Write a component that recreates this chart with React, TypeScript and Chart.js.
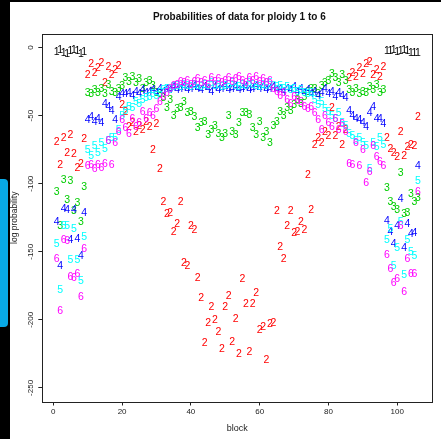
import React, { useEffect, useRef } from "react";
import { Chart, registerables } from "chart.js";

Chart.register(...registerables);

const TITLE = "Probabilities of data for ploidy 1 to 6";
const X_LABEL = "block";
const Y_LABEL = "log probability";
const X_TICKS = [0, 20, 40, 60, 80, 100];
const Y_TICKS = [0, -50, -100, -150, -200, -250];
const PLOIDY_LABELS = ["1", "2", "3", "4", "5", "6"];
const PLOIDY_COLORS = ["#000000", "#FF0000", "#00CD00", "#0000FF", "#00FFFF", "#FF00FF"];

// block index 1..106
const blocks = Array.from({ length: 106 }, (_, i) => i + 1);

const ploidy1 = [
  -3, -1.5, -4, -4.5, -2, -1.5, -2.5, -4.5, -3, null,
  null, null, null, null, null, null, null, null, null, null,
  null, null, null, null, null, null, null, null, null, null,
  null, null, null, null, null, null, null, null, null, null,
  null, null, null, null, null, null, null, null, null, null,
  null, null, null, null, null, null, null, null, null, null,
  null, null, null, null, null, null, null, null, null, null,
  null, null, null, null, null, null, null, null, null, null,
  null, null, null, null, null, null, null, null, null, null,
  null, null, null, null, null, null, -2, -2.5, -1.5, -3,
  -2, -1.5, -2.5, -4, -4, -3.5,
];

const ploidy2 = [
  -69, -86, -66, -77, -64, -78, -88, -85, -67, -20,
  -12, -18, -15, -11, -26, -14, -20, -16, -13, -42,
  -47, -58, -55, -62, -57, -60, -54, -58, -75, -56,
  -89, -113, -122, -121, -135, -129, -113, -158, -160, -131,
  -134, -169, -184, -217, -202, -190, -200, -209, -221, -190,
  -182, -216, -199, -225, -170, -188, -223, -188, -180, -207,
  -205, -229, -203, -202, -120, -146, -155, -131, -120, -136,
  -135, -128, -134, -93, -119, -71, -66, -70, -62, -65,
  -44, -65, -58, -71, -60, -22, -18, -21, -15, -19,
  -12, -10, -20, -16, -21, -14, -66, -74, -77, -80,
  -62, -79, -73, -71, -72, -51,
];

const ploidy3 = [
  -106, -131, -97, -112, -98, -120, -114, -128, -102, -33,
  -34, -31, -33, -30, -34, -27, -32, -33, -30, -28,
  -22, -25, -21, -26, -23, -30, -26, -24, -28, -33,
  -34, -37, -44, -38, -50, -45, -44, -40, -48, -47,
  -51, -59, -55, -54, -64, -60, -57, -63, -66, -63,
  -50, -62, -64, -55, -48, -48, -49, -59, -64, -54,
  -66, -62, -70, -57, -54, -47, -50, -44, -46, -42,
  -38, -41, -36, -32, -30, -30, -34, -28, -26, -24,
  -19, -22, -26, -20, -24, -31, -33, -30, -34, -32,
  -33, -29, -31, -27, -33, -31, -103, -113, -117, -119,
  -92, -122, -121, -107, -113, -110,
];

const ploidy4 = [
  -128, -160, -118, -119, -141, -119, -140, -153, -121, -53,
  -51, -54, -52, -55, -41, -43, -46, -53, -36, -34,
  -34, -33, -35, -32, -34, -31, -33, -32, -31, -33,
  -30, -32, -30, -31, -29, -31, -30, -29, -31, -30,
  -28, -30, -31, -29, -30, -32, -29, -31, -30, -28,
  -31, -30, -29, -31, -30, -29, -31, -30, -28, -30,
  -29, -31, -30, -29, -31, -30, -32, -30, -31, -29,
  -32, -30, -33, -31, -34, -32, -35, -33, -30, -34,
  -32, -36, -33, -35, -37, -46, -50, -52, -53, -55,
  -58, -48, -43, -52, -52, -56, -127, -135, -144, -131,
  -111, -147, -129, -137, -136, -87,
];

const ploidy5 = [
  -144, -178, -131, -131, -156, -133, -156, -171, -139, -75,
  -79, -72, -77, -70, -74, -68, -66, -66, -60, -50,
  -46, -43, -44, -40, -41, -38, -37, -36, -34, -35,
  -33, -31, -30, -31, -29, -28, -29, -27, -28, -29,
  -27, -28, -29, -27, -28, -26, -28, -27, -29, -28,
  -27, -26, -28, -29, -27, -28, -26, -27, -28, -29,
  -27, -28, -26, -28, -29, -28, -30, -29, -31, -30,
  -32, -31, -33, -34, -33, -38, -42, -40, -45, -47,
  -50, -52, -48, -55, -57, -63, -65, -68, -66, -70,
  -72, -89, -70, -73, -66, -71, -141, -133, -160, -147,
  -128, -167, -141, -150, -153, -98,
];

const ploidy6 = [
  -155, -193, -141, -142, -168, -169, -166, -183, -148, -87,
  -86, -89, -86, -88, -85, -68, -86, -70, -62, -53,
  -59, -63, -52, -58, -55, -47, -52, -48, -50, -45,
  -40, -36, -33, -30, -28, -27, -25, -26, -24, -27,
  -25, -23, -26, -24, -27, -22, -25, -23, -26, -24,
  -22, -25, -23, -21, -24, -26, -22, -24, -21, -25,
  -23, -26, -24, -30, -32, -35, -33, -38, -41, -36,
  -39, -40, -43, -45, -43, -48, -53, -60, -50, -55,
  -58, -52, -60, -56, -62, -85, -86, -70, -87, -75,
  -99, -91, -72, -80, -84, -87, -152, -162, -173, -170,
  -131, -179, -155, -166, -166, -106,
];

const SERIES = [ploidy1, ploidy2, ploidy3, ploidy4, ploidy5, ploidy6];

const FONT = "'Liberation Sans', Arial, Helvetica, sans-serif";
const INK = "#222222";

const textMarkers = {
  id: "textMarkers",
  afterDatasetsDraw(chart: any) {
    const { ctx, chartArea: a } = chart;
    ctx.save();
    ctx.beginPath();
    ctx.rect(a.left, a.top, a.right - a.left, a.bottom - a.top);
    ctx.clip();
    ctx.font = `10.5px ${FONT}`;
    ctx.textAlign = "center";
    ctx.textBaseline = "middle";
    chart.data.datasets.forEach((ds: any, i: number) => {
      const meta = chart.getDatasetMeta(i);
      ctx.fillStyle = ds.markerColor;
      meta.data.forEach((el: any) => {
        if (el.skip || !isFinite(el.x) || !isFinite(el.y)) return;
        ctx.fillText(ds.markerText, el.x, el.y + 0.5);
      });
    });
    ctx.restore();
  },
};

const frameDecor = {
  id: "frameDecor",
  afterDraw(chart: any) {
    const { ctx, chartArea: a, scales } = chart;
    ctx.save();
    ctx.strokeStyle = INK;
    ctx.lineWidth = 1;
    ctx.strokeRect(
      Math.round(a.left) + 0.5,
      Math.round(a.top) + 0.5,
      Math.round(a.right - a.left),
      Math.round(a.bottom - a.top)
    );
    // y tick labels, rotated like R's default (las = 0)
    ctx.fillStyle = INK;
    ctx.font = `8px ${FONT}`;
    ctx.textAlign = "center";
    ctx.textBaseline = "middle";
    scales.y.ticks.forEach((t: any) => {
      const y = scales.y.getPixelForValue(t.value);
      ctx.save();
      ctx.translate(a.left - 12, y);
      ctx.rotate(-Math.PI / 2);
      ctx.fillText(String(t.value), 0, 0);
      ctx.restore();
    });
    // main title
    ctx.font = `bold 10px ${FONT}`;
    ctx.fillStyle = "#111";
    ctx.fillText(TITLE, (a.left + a.right) / 2 + 2, 17);
    ctx.restore();
  },
};

export default function App() {
  const ref = useRef<HTMLCanvasElement | null>(null);

  useEffect(() => {
    if (!ref.current) return;
    const datasets = SERIES.map((s, i) => ({
      label: PLOIDY_LABELS[i],
      data: blocks.map((b, j) => ({ x: b, y: s[j] })),
      markerText: PLOIDY_LABELS[i],
      markerColor: PLOIDY_COLORS[i],
      pointRadius: 0,
      pointHoverRadius: 0,
      showLine: false,
    }));
    const chart = new Chart(ref.current, {
      type: "scatter",
      data: { datasets } as any,
      options: {
        animation: false,
        responsive: false,
        events: [],
        layout: { padding: { top: 34, right: 8.7, left: 0, bottom: 0 } },
        plugins: {
          legend: { display: false },
          tooltip: { enabled: false },
          title: { display: false },
        },
        scales: {
          x: {
            type: "linear",
            min: -3.2,
            max: 110.2,
            afterBuildTicks: (s: any) => {
              s.ticks = X_TICKS.map((value) => ({ value }));
            },
            afterFit: (s: any) => {
              s.height = 37.5;
            },
            ticks: {
              font: { size: 8, family: FONT },
              color: INK,
              padding: 1,
              maxRotation: 0,
              minRotation: 0,
              autoSkip: false,
            },
            grid: {
              display: true,
              drawOnChartArea: false,
              drawTicks: true,
              tickLength: 4,
              color: INK,
            },
            border: { display: false },
            title: {
              display: true,
              text: X_LABEL,
              font: { size: 9, family: FONT },
              color: INK,
              padding: { top: 0, bottom: 5.5 },
            },
          },
          y: {
            type: "linear",
            min: -260,
            max: 10,
            afterBuildTicks: (s: any) => {
              s.ticks = Y_TICKS.map((value) => ({ value }));
            },
            afterFit: (s: any) => {
              s.width = 42.3;
            },
            ticks: { display: false },
            grid: {
              display: true,
              drawOnChartArea: false,
              drawTicks: true,
              tickLength: 4,
              color: INK,
            },
            border: { display: false },
            title: {
              display: true,
              text: Y_LABEL,
              font: { size: 8.5, family: FONT },
              color: INK,
              padding: { top: 9.9, bottom: 0 },
            },
          },
        },
      } as any,
      plugins: [textMarkers, frameDecor],
    });
    return () => chart.destroy();
  }, []);

  return (
    <div style={{ position: "absolute", left: 0, top: 0, width: 441, height: 439, background: "#fff" }}>
      <canvas ref={ref} width={441} height={439} style={{ display: "block" }} />
      <div style={{ position: "absolute", left: 0, top: 0, width: 441, height: 2, background: "#000" }} />
      <div style={{ position: "absolute", left: 0, top: 0, width: 10, height: 439, background: "#000" }} />
      <div
        style={{
          position: "absolute",
          left: 0,
          top: 179,
          width: 8,
          height: 148,
          background: "#08a9e6",
          borderRadius: "0 4px 4px 0",
        }}
      />
    </div>
  );
}
